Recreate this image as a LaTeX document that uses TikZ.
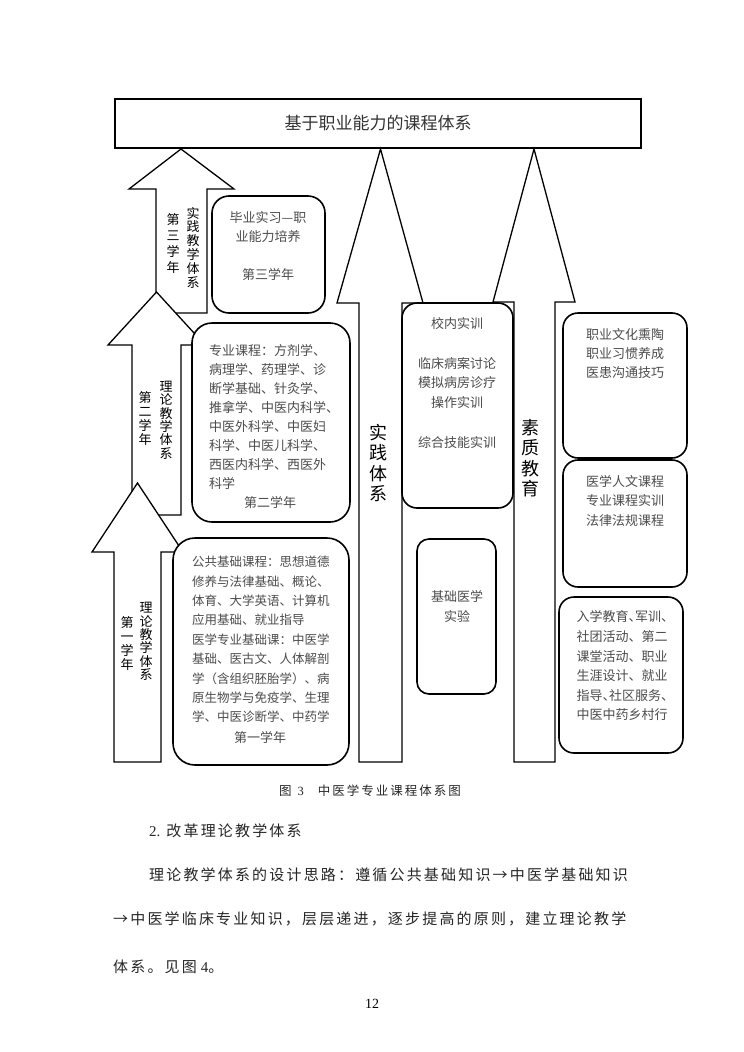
\documentclass[tikz,border=0pt]{standalone}
\usepackage{fontspec}
\setmainfont{Noto Sans CJK SC}
\newfontfamily\latin{Liberation Serif}
\newfontfamily\bodyfont[LetterSpace=14.5]{Noto Sans CJK SC}
\newfontfamily\capfont[LetterSpace=16]{Noto Sans CJK SC}
\newcommand\halfdun{\makebox[0.5em][l]{、}}

\begin{document}
\begin{tikzpicture}[x=1pt, y=-1pt,
    blockarrow/.style={draw, fill=white, line width=1.3pt, line join=miter},
    roundbox/.style={draw, fill=white, line width=1.6pt, inner sep=0pt, rounded corners=#1},
    roundbox/.default=15pt,
    boxtext/.style={inner sep=0pt, text=black!70, font=\fontsize{13}{#1}\selectfont},
    boxtext/.default=19.3pt,
    armlabel/.style={inner sep=0pt, align=center, font=\fontsize{13}{#1}\selectfont},
    biglabel/.style={inner sep=0pt, align=center, font=\fontsize{18}{20.4}\selectfont},
    pagetext/.style={inner sep=0pt, anchor=west, text=black!85}]
    \fill[white] (0,0) rectangle (744,1052);
    \useasboundingbox (0,0) rectangle (744,1052);

    % Top: the whole course system
    \node[draw, line width=1.3pt, inner sep=0pt, minimum width=526pt, minimum height=49pt,
          text=black!80, font=\fontsize{17}{20}\selectfont] (system) at (378,123.5) {基于职业能力的课程体系};

    % Left: three stacked year arrows, the later ones drawn first
    \draw[blockarrow] (181,149) -- (234,189) -- (207,189) -- (207,313) -- (156,313) -- (156,189) -- (129,189) -- cycle;
    \draw[blockarrow] (156.5,292) -- (205,345) -- (181,345) -- (181,515) -- (132,515) -- (132,345) -- (108,345) -- cycle;
    \draw[blockarrow] (137.5,483) -- (183,552) -- (161,552) -- (161,762) -- (114,762) -- (114,552) -- (92,552) -- cycle;

    % Middle and right: two long arrows up to the top box
    \draw[blockarrow] (380.5,149) -- (423,303) -- (402,303) -- (402,762) -- (359,762) -- (359,303) -- (337,303) -- cycle;
    \draw[blockarrow] (534,149) -- (575,302) -- (555,302) -- (555,762) -- (514,762) -- (514,302) -- (493,302) -- cycle;

    % Labels inside the arrows
    \node[armlabel=16pt] (year3) at (173,244) {第\\三\\学\\年};
    \node[armlabel=13.8pt] (practice3) at (193,247.5) {实\\践\\教\\学\\体\\系};
    \node[armlabel=13.7pt] (year2) at (145,418.5) {第\\二\\学\\年};
    \node[armlabel=13.4pt] (theory2) at (166,420) {理\\论\\教\\学\\体\\系};
    \node[armlabel=14pt] (year1) at (127,644) {第\\一\\学\\年};
    \node[armlabel=13.4pt] (theory1) at (146,641.5) {理\\论\\教\\学\\体\\系};
    \node[biglabel] (practice) at (378,463) {实\\践\\体\\系};
    \node[biglabel] (quality) at (530,458) {素\\质\\教\\育};

    % Left boxes: course content per year
    \node[roundbox=17pt, minimum width=113pt, minimum height=117pt] (intern) at (268.5,254.5) {};
    \node[boxtext, align=center] (interntext) at (268,246) {毕业实习—职\\业能力培养\\[19pt]第三学年};

    \node[roundbox=20pt, minimum width=158pt, minimum height=199pt] (major) at (271,422.5) {};
    \node[boxtext=18.9pt, align=left, anchor=west] (majortext) at (209,417)
        {专业课程：方剂学、\\病理学、药理学、诊\\断学基础、针灸学、\\推拿学、中医内科学、\\中医外科学、中医妇\\科学、中医儿科学、\\西医内科学、西医外\\科学};
    \node[boxtext] (majoryear) at (270,503) {第二学年};

    \node[roundbox=22pt, minimum width=176pt, minimum height=227pt] (basic) at (261,651.5) {};
    \node[boxtext=19.4pt, align=left, anchor=west, font=\fontsize{12.5}{19.4}\selectfont] (basictext) at (192,639.5)
        {公共基础课程：思想道德\\修养与法律基础、概论、\\体育、大学英语、计算机\\应用基础、就业指导\\医学专业基础课：中医学\\基础、医古文、人体解剖\\学（含组织胚胎学）、病\\原生物学与免疫学、生理\\学、中医诊断学、中药学};
    \node[boxtext] (basicyear) at (260,737) {第一学年};

    % Middle boxes: practice
    \node[roundbox, minimum width=111pt, minimum height=205pt] (campus) at (457.5,405.5) {};
    \node[boxtext=19.7pt, align=center] (campustext) at (457,383)
        {校内实训\\[19.7pt]临床病案讨论\\模拟病房诊疗\\操作实训\\[19.7pt]综合技能实训};
    \node[roundbox=12pt, minimum width=79pt, minimum height=155pt] (lab) at (456.5,616.5) {};
    \node[boxtext=20pt, align=center] (labtext) at (457,606) {基础医学\\实验};

    % Right boxes: quality education
    \node[roundbox, minimum width=124pt, minimum height=145pt] (culture) at (625,385.5) {};
    \node[boxtext=19pt, align=center] (culturetext) at (625,354) {职业文化熏陶\\职业习惯养成\\医患沟通技巧};
    \node[roundbox, minimum width=124pt, minimum height=127pt] (humanity) at (625,523.5) {};
    \node[boxtext=19.5pt, align=center] (humanitytext) at (625,500.5) {医学人文课程\\专业课程实训\\法律法规课程};
    \node[roundbox, minimum width=124pt, minimum height=156pt] (activity) at (621,675) {};
    \node[boxtext=19.6pt, align=center] (activitytext) at (622,666)
        {入学教育\halfdun 军训\halfdun\\社团活动、第二\\课堂活动、职业\\生涯设计、就业\\指导\halfdun 社区服务\halfdun\\中医中药乡村行};

    % Caption and running text of the page
    \node[pagetext, font=\capfont\fontsize{12.5}{15}\selectfont] (caption) at (279,791)
        {图\hspace{6pt}{\latin 3}\hspace{14pt}中医学专业课程体系图};
    \node[pagetext, font=\bodyfont\fontsize{15}{18}\selectfont] (heading) at (149,831)
        {{\latin\fontsize{15}{18}\selectfont 2.}\hspace{6pt}改革理论教学体系};
    \node[pagetext, font=\bodyfont\fontsize{15}{18}\selectfont] (line1) at (149,875)
        {理论教学体系的设计思路：遵循公共基础知识→中医学基础知识};
    \node[pagetext, font=\bodyfont\fontsize{15}{18}\selectfont] (line2) at (113,919)
        {→中医学临床专业知识，层层递进，逐步提高的原则，建立理论教学};
    \node[pagetext, font=\bodyfont\fontsize{15}{18}\selectfont] (line3) at (113,967)
        {体系。见图\hspace{4pt}{\latin\fontsize{15}{18}\selectfont 4}。};
    \node[inner sep=0pt, font=\latin\fontsize{14}{16}\selectfont] (pageno) at (372,1004) {12};
\end{tikzpicture}
\end{document}
